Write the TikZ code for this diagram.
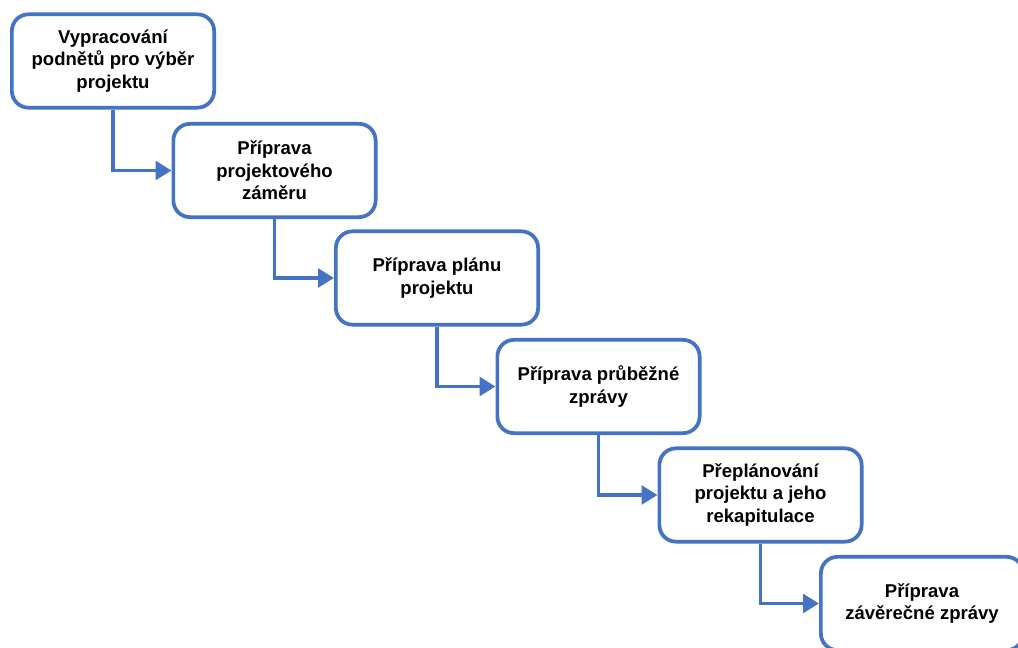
\documentclass[tikz,border=0pt]{standalone}
\usepackage{fontspec}
\setmainfont{Liberation Sans}
\usepackage{tikz}
\usetikzlibrary{arrows.meta}
\definecolor{phaseblue}{HTML}{4472C4}

\begin{document}
\begin{tikzpicture}[x=0.75pt, y=-0.75pt,
  phase/.style={draw=phaseblue, line width=2.8pt, rounded corners=12.5pt, fill=white,
    minimum width=151.7pt, minimum height=70pt, align=center,
    font=\fontsize{13.9}{17}\selectfont\bfseries},
  flow/.style={draw=phaseblue, line width=2.8pt, -{Triangle[length=12pt, width=14pt]}}]

\useasboundingbox (0, 0) rectangle (1018, 648);

\node[phase] (phase a) at (113, 61) {Vypracování\\podnětů pro výběr\\projektu};
\node[phase] (phase b) at (274.5, 170.5) {Příprava\\projektového\\záměru};
\node[phase] (phase c) at (437, 278) {Příprava plánu\\projektu};
\node[phase] (phase d) at (598.5, 386.5) {Příprava průběžné\\zprávy};
\node[phase] (phase e) at (760.5, 495) {Přeplánování\\projektu a jeho\\rekapitulace};
\node[phase] (phase f) at (922, 603.5) {Příprava\\závěrečné zprávy};

\draw[flow] (phase a.south) |- (phase b.west);
\draw[flow] (phase b.south) |- (phase c.west);
\draw[flow] (phase c.south) |- (phase d.west);
\draw[flow] (phase d.south) |- (phase e.west);
\draw[flow] (phase e.south) |- (phase f.west);
\end{tikzpicture}
\end{document}
